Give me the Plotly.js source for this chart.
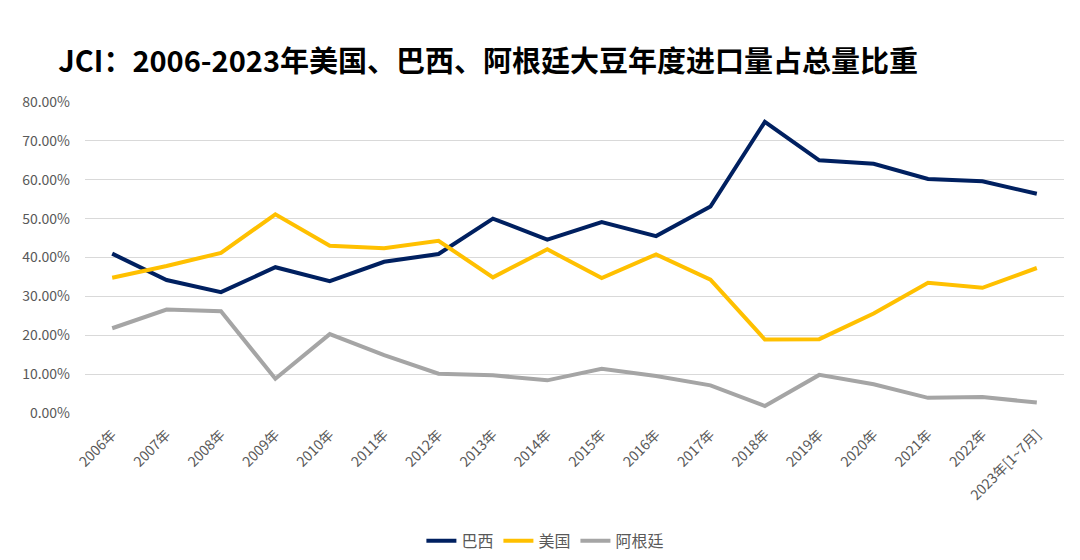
<!DOCTYPE html>
<html>
<head>
<meta charset="utf-8">
<script src="https://cdn.plot.ly/plotly-3.0.1.min.js"></script>
<style>html,body{margin:0;padding:0;background:#fff;}#chart{width:1080px;height:560px;}</style>
</head>
<body>
<div id="chart"></div>
<script>
const years = ["2006年","2007年","2008年","2009年","2010年","2011年","2012年","2013年","2014年","2015年","2016年","2017年","2018年","2019年","2020年","2021年","2022年","2023年[1~7月]"];
const brazil = [0.410,0.342,0.311,0.375,0.339,0.389,0.409,0.500,0.446,0.491,0.455,0.531,0.749,0.650,0.641,0.602,0.596,0.564];
const usa = [0.348,0.378,0.412,0.511,0.430,0.424,0.443,0.349,0.421,0.347,0.408,0.343,0.189,0.190,0.256,0.335,0.322,0.373];
const argentina = [0.218,0.266,0.262,0.088,0.203,0.149,0.101,0.097,0.084,0.114,0.095,0.071,0.018,0.098,0.074,0.039,0.041,0.027];
const seriesNames = ["巴西","美国","阿根廷"];
const seriesColors = ["#002060","#FFC000","#A5A5A5"];

const font = '"Noto Sans CJK SC", "Noto Sans", sans-serif';
const traces = [brazil, usa, argentina].map((vals, i) => ({
  type: 'scatter', mode: 'lines', x: years, y: vals, name: seriesNames[i],
  line: {color: seriesColors[i], width: 4}, hoverinfo: 'skip'
}));

const layout = {
  width: 1080, height: 560,
  margin: {l: 85, r: 16, t: 102, b: 147},
  paper_bgcolor: '#fff', plot_bgcolor: '#fff',
  font: {family: font, color: '#595959', size: 13},
  title: {text: 'JCI：2006-2023年美国、巴西、阿根廷大豆年度进口量占总量比重',
    font: {family: font, size: 29, color: '#000', weight: 'bold'},
    x: 0.054, xanchor: 'left', xref: 'container', y: 0.889, yanchor: 'middle', yref: 'container'},
  xaxis: {type: 'category', range: [-0.5, years.length - 0.5], tickangle: -45, showgrid: false,
    zeroline: false, showline: false, ticks: '', ticklabelstandoff: 10, automargin: false,
    tickfont: {size: 14, color: '#595959'}},
  yaxis: {range: [0, 0.8], dtick: 0.1, tickformat: '.2%', gridcolor: '#D9D9D9', gridwidth: 1,
    zeroline: false, showline: false, ticks: '', ticklabelstandoff: 14, automargin: false,
    tickfont: {size: 14, color: '#595959'}},
  showlegend: true,
  legend: {orientation: 'h', x: 0.505, xanchor: 'center', xref: 'container',
    y: 0.034, yanchor: 'middle', yref: 'container',
    font: {size: 16, color: '#595959'}, itemwidth: 30, traceorder: 'normal'}
};
Plotly.newPlot('chart', traces, layout, {staticPlot: true});
</script>
</body>
</html>
